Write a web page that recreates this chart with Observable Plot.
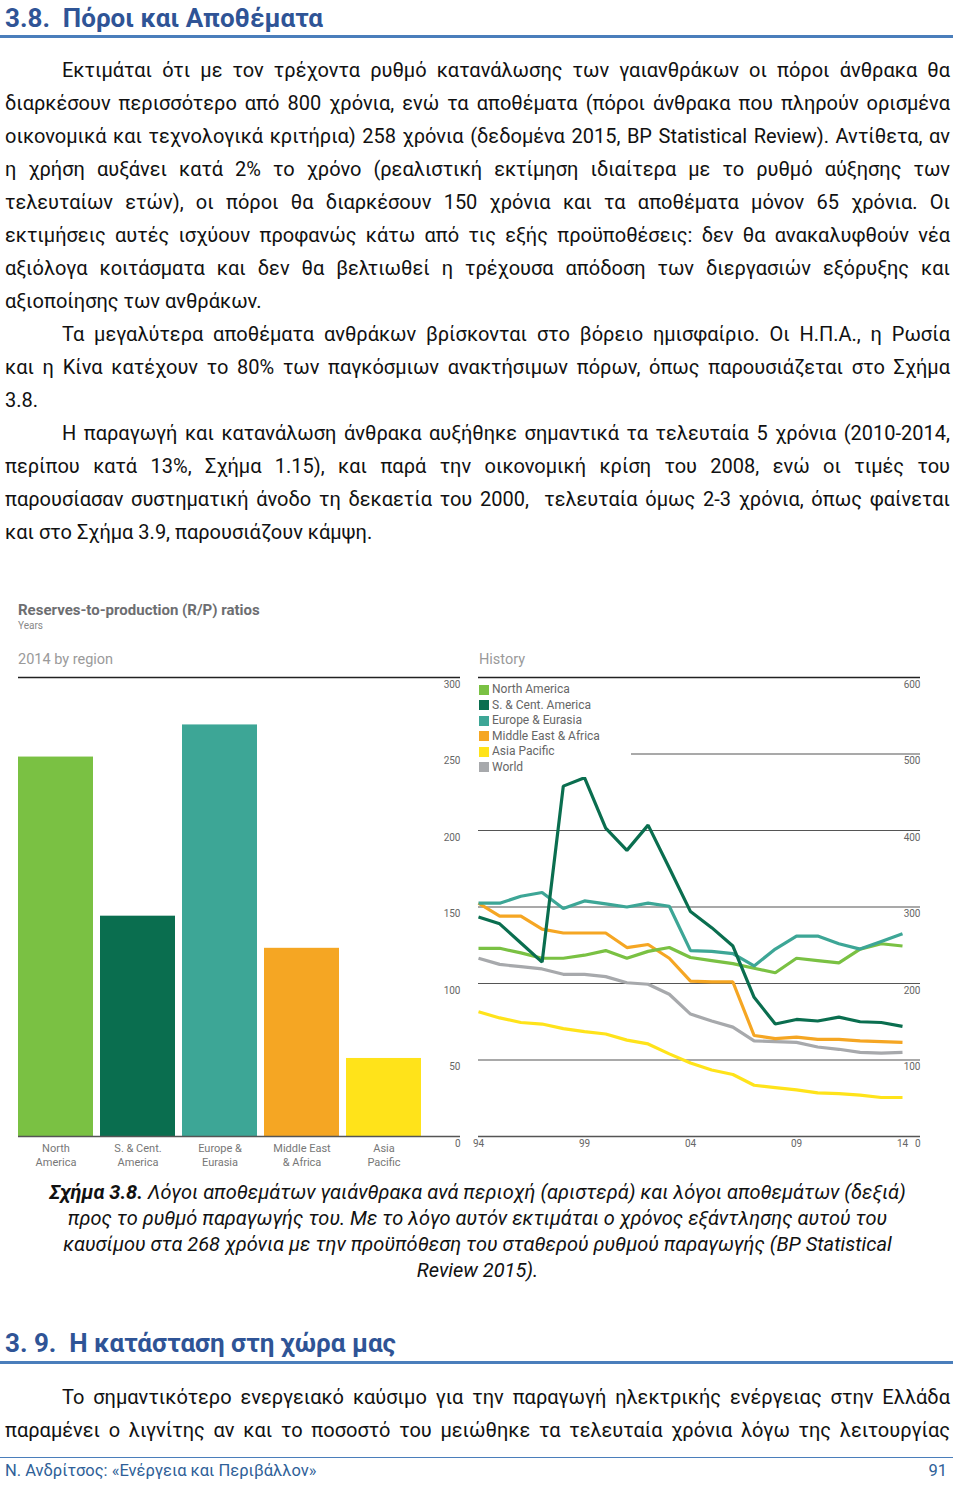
<!DOCTYPE html>
<html>
<head>
<meta charset="utf-8">
<script src="https://cdn.jsdelivr.net/npm/d3@7"></script>
<script src="https://cdn.jsdelivr.net/npm/@observablehq/plot@0.6"></script>
<style>
  html, body { margin: 0; padding: 0; background: #fff; }
  body { width: 960px; height: 1487px; position: relative; overflow: hidden; font-family: Roboto, "Noto Sans", sans-serif; color: #111; }
  .abs { position: absolute; }
  .h { font-weight: bold; color: #2f5496; font-size: 26px; white-space: nowrap; }
  .rule { position: absolute; left: 0; width: 953px; height: 3px; background: #4a7ebb; }
  .txt { position: absolute; left: 5px; width: 945px; font-size: 20px; line-height: 33px; }
  .txt div { text-align: justify; text-align-last: justify; }
  .txt div.last { text-align: left; text-align-last: left; }
  .txt div.ind { text-indent: 57px; }
  .cap { position: absolute; left: 5px; width: 945px; font-size: 20px; line-height: 26px; font-style: italic; text-align: center; }
  .chart-t { position: absolute; font-family: Roboto, sans-serif; }
  #legend { position: absolute; left: 476px; top: 680px; width: 152px; background: #fff; padding: 2px 0 2px 3px; font-family: Roboto, sans-serif; font-size: 12px; color: #666; }
  #legend .it { height: 15.5px; line-height: 15.5px; display: flex; align-items: center; }
  #legend .sw { width: 10px; height: 10px; margin-right: 3px; }
</style>
</head>
<body>
<div class="abs h" style="left:5px; top:3px; line-height:30px;">3.8.&nbsp; Πόροι και Αποθέματα</div>
<div class="rule" style="top:35px;"></div>

<div class="txt" style="top:53.5px;">
  <div class="ind">Εκτιμάται ότι με τον τρέχοντα ρυθμό κατανάλωσης των γαιανθράκων οι πόροι άνθρακα θα</div>
  <div>διαρκέσουν περισσότερο από 800 χρόνια, ενώ τα αποθέματα (πόροι άνθρακα που πληρούν ορισμένα</div>
  <div>οικονομικά και τεχνολογικά κριτήρια) 258 χρόνια (δεδομένα 2015, BP Statistical Review). Αντίθετα, αν</div>
  <div>η χρήση αυξάνει κατά 2% το χρόνο (ρεαλιστική εκτίμηση ιδιαίτερα με το ρυθμό αύξησης των</div>
  <div>τελευταίων ετών), οι πόροι θα διαρκέσουν 150 χρόνια και τα αποθέματα μόνον 65 χρόνια. Οι</div>
  <div>εκτιμήσεις αυτές ισχύουν προφανώς κάτω από τις εξής προϋποθέσεις: δεν θα ανακαλυφθούν νέα</div>
  <div>αξιόλογα κοιτάσματα και δεν θα βελτιωθεί η τρέχουσα απόδοση των διεργασιών εξόρυξης και</div>
  <div class="last">αξιοποίησης των ανθράκων.</div>
  <div class="ind">Τα μεγαλύτερα αποθέματα ανθράκων βρίσκονται στο βόρειο ημισφαίριο. Οι Η.Π.Α., η Ρωσία</div>
  <div>και η Κίνα κατέχουν το 80% των παγκόσμιων ανακτήσιμων πόρων, όπως παρουσιάζεται στο Σχήμα</div>
  <div class="last">3.8.</div>
  <div class="ind">Η παραγωγή και κατανάλωση άνθρακα αυξήθηκε σημαντικά τα τελευταία 5 χρόνια (2010-2014,</div>
  <div>περίπου κατά 13%, Σχήμα 1.15), και παρά την οικονομική κρίση του 2008, ενώ οι τιμές του</div>
  <div>παρουσίασαν συστηματική άνοδο τη δεκαετία του 2000,&nbsp; τελευταία όμως 2-3 χρόνια, όπως φαίνεται</div>
  <div class="last">και στο Σχήμα 3.9, παρουσιάζουν κάμψη.</div>
</div>

<div class="chart-t" style="left:18px; top:601px; font-size:15px; font-weight:bold; color:#6d6e71;">Reserves-to-production (R/P) ratios</div>
<div class="chart-t" style="left:18px; top:620px; font-size:10px; color:#888;">Years</div>
<div class="chart-t" style="left:18px; top:651px; font-size:14.5px; color:#9a9a9a;">2014 by region</div>
<div class="chart-t" style="left:479px; top:651px; font-size:14.5px; color:#9a9a9a;">History</div>

<div id="left" class="abs" style="left:0px; top:650px;"></div>
<div id="right" class="abs" style="left:470px; top:650px;"></div>
<div id="legend"></div>

<div class="cap" style="top:1179px;">
  <b>Σχήμα 3.8.</b> Λόγοι αποθεμάτων γαιάνθρακα ανά περιοχή (αριστερά) και λόγοι αποθεμάτων (δεξιά)<br>
  προς το ρυθμό παραγωγής του. Με το λόγο αυτόν εκτιμάται ο χρόνος εξάντλησης αυτού του<br>
  καυσίμου στα 268 χρόνια με την προϋπόθεση του σταθερού ρυθμού παραγωγής (BP Statistical<br>
  Review 2015).
</div>

<div class="abs h" style="left:5px; top:1328px; line-height:30px;">3. 9.&nbsp; Η κατάσταση στη χώρα μας</div>
<div class="rule" style="top:1361px;"></div>

<div class="txt" style="top:1380.5px;">
  <div class="ind">Το σημαντικότερο ενεργειακό καύσιμο για την παραγωγή ηλεκτρικής ενέργειας στην Ελλάδα</div>
  <div>παραμένει ο λιγνίτης αν και το ποσοστό του μειώθηκε τα τελευταία χρόνια λόγω της λειτουργίας</div>
</div>

<div class="abs" style="left:0; top:1457px; width:953px; height:1px; background:#4a7ebb;"></div>
<div class="abs" style="left:5px; top:1460px; font-size:16.5px; line-height:22px; color:#2f5f98;">Ν. Ανδρίτσος: «Ενέργεια και Περιβάλλον»</div>
<div class="abs" style="left:900px; width:47px; top:1460px; font-size:16.5px; line-height:22px; color:#2f5f98; text-align:right;">91</div>

<script>
// ---------- DATA ----------
const regions = ["North America", "S. & Cent. America", "Europe & Eurasia", "Middle East & Africa", "Asia Pacific"];
const regionLabels = ["North\nAmerica", "S. & Cent.\nAmerica", "Europe &\nEurasia", "Middle East\n& Africa", "Asia\nPacific"];
const rp2014 = [248, 144, 269, 123, 51];

const seriesNames = ["North America", "S. & Cent. America", "Europe & Eurasia", "Middle East & Africa", "Asia Pacific", "World"];
const seriesColors = ["#7ac143", "#0a6e4f", "#3da696", "#f5a623", "#ffe31a", "#a7a9ac"];

const years = [1994, 1995, 1996, 1997, 1998, 1999, 2000, 2001, 2002, 2003, 2004,
               2005, 2006, 2007, 2008, 2009, 2010, 2011, 2012, 2013, 2014];
const northAmerica = [246, 246, 240, 233, 233, 237, 243, 233, 242, 247, 234, 230, 226, 220, 214, 233, 230, 227, 245, 252, 249];
const southCentAmerica = [287, 278, 253, 228, 458, 469, 403, 374, 407, 351, 294, 273, 249, 182, 147, 153, 151, 156, 150, 149, 144];
const europeEurasia = [305, 305, 314, 319, 298, 308, 304, 300, 305, 301, 243, 242, 239, 223, 245, 262, 262, 252, 245, 255, 265];
const middleEastAfrica = [305, 288, 288, 271, 266, 266, 266, 247, 251, 233, 203, 202, 202, 132, 128, 130, 127, 127, 125, 124, 123];
const asiaPacific = [163, 155, 149, 147, 141, 137, 134, 126, 121, 108, 96, 87, 81, 67, 64, 61, 57, 56, 54, 51, 51];
const world = [233, 225, 222, 219, 212, 212, 209, 201, 199, 186, 160, 151, 143, 125, 124, 123, 117, 114, 110, 109, 110];

const leftTicks = [0, 50, 100, 150, 200, 250, 300];
const rightTicks = [0, 100, 200, 300, 400, 500, 600];
const xTicks = [1994, 1999, 2004, 2009, 2014];

// ---------- BUILD ----------
const barData = regions.map((r, i) => ({region: r, value: rp2014[i]}));
const seriesValues = [northAmerica, southCentAmerica, europeEurasia, middleEastAfrica, asiaPacific, world];
const drawOrder = ["World", "Asia Pacific", "Middle East & Africa", "North America", "Europe & Eurasia", "S. & Cent. America"];
const histData = [];
drawOrder.forEach(name => {
  const vals = seriesValues[seriesNames.indexOf(name)];
  years.forEach((y, i) => histData.push({region: name, year: y, value: vals[i]}));
});

const baseStyle = {fontFamily: "Roboto, sans-serif", fontSize: "10px", color: "#666", background: "transparent"};
const colorScale = {domain: seriesNames, range: seriesColors};

const left = Plot.plot({
  width: 470, height: 530,
  marginTop: 27, marginBottom: 44, marginLeft: 18, marginRight: 10,
  style: baseStyle,
  x: {domain: regions, range: [18, 422], paddingInner: 0.08, paddingOuter: 0, label: null},
  y: {domain: [0, 300], label: null},
  color: colorScale,
  marks: [
    Plot.barY(barData, {x: "region", y: "value", fill: "region"}),
    Plot.ruleY([0], {stroke: "#555", strokeWidth: 1.5}),
    Plot.ruleY([300], {stroke: "#222", strokeWidth: 1.5}),
    Plot.axisY({anchor: "right", ticks: leftTicks, tickSize: 0, tickPadding: 0, textAnchor: "end", dy: 7, label: null, fill: "#666"}),
    Plot.axisX({tickSize: 0, tickPadding: 5, tickFormat: d => regionLabels[regions.indexOf(d)], lineHeight: 1.3, fontSize: 11, label: null, fill: "#777"})
  ]
});
document.getElementById("left").appendChild(left);

const right = Plot.plot({
  width: 490, height: 530,
  marginTop: 27, marginBottom: 44, marginLeft: 8, marginRight: 40,
  style: baseStyle,
  x: {domain: [1994, 2014], range: [8, 432], label: null},
  y: {domain: [0, 600], label: null},
  color: colorScale,
  marks: [
    Plot.ruleY([100, 200, 300, 400, 500], {stroke: "#555", strokeWidth: 1.2}),
    Plot.ruleY([600], {stroke: "#222", strokeWidth: 1.5}),
    Plot.ruleY([0], {stroke: "#555", strokeWidth: 1.5}),
    Plot.lineY(histData, {x: "year", y: "value", z: "region", stroke: "region", strokeWidth: 3.2, strokeLinejoin: "miter", strokeLinecap: "butt"}),
    Plot.axisY({anchor: "right", ticks: rightTicks, tickSize: 0, tickPadding: 0, textAnchor: "end", dy: 7, label: null, fill: "#666"}),
    Plot.axisX({ticks: xTicks, tickFormat: d => String(d).slice(2), tickSize: 0, tickPadding: 3, label: null, fill: "#666"})
  ]
});
document.getElementById("right").appendChild(right);

// legend (HTML, white box over the chart like the original)
const legend = document.getElementById("legend");
seriesNames.forEach((n, i) => {
  const it = document.createElement("div");
  it.className = "it";
  const sw = document.createElement("span");
  sw.className = "sw";
  sw.style.background = seriesColors[i];
  it.appendChild(sw);
  it.appendChild(document.createTextNode(n));
  legend.appendChild(it);
});
</script>
</body>
</html>
